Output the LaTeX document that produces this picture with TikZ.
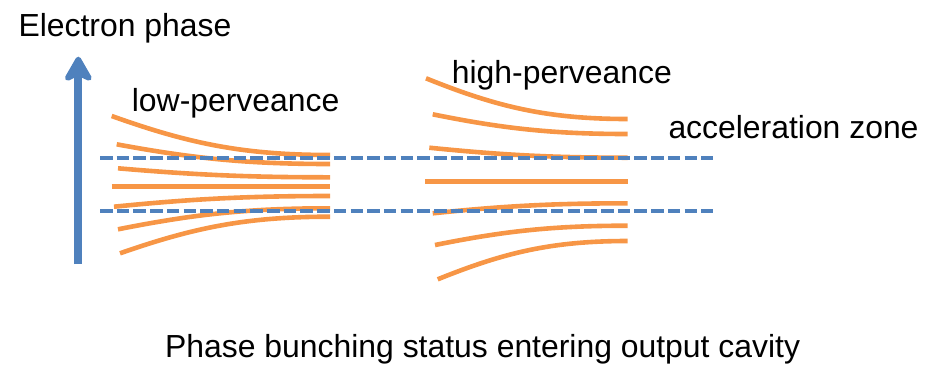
\documentclass[tikz,border=0pt]{standalone}
\usepackage{fontspec}
\setmainfont{Liberation Sans}
\usetikzlibrary{arrows.meta}
\definecolor{beamorange}{HTML}{F79646}
\definecolor{axisblue}{HTML}{4F81BD}
\tikzset{
  beam/.style={draw=beamorange, line width=4.6pt},
  zoneline/.style={draw=axisblue, line width=4pt, dash pattern=on 12.5pt off 4.2pt},
  axisarrow/.style={draw=axisblue, line width=8pt,
    -{Stealth[length=30pt, width=34pt, inset=8pt, round]}},
  label/.style={font=\fontsize{31.9}{36}\selectfont, inner sep=0pt, anchor=base west},
}
% one electron trajectory: converges from (#1,#2) onto a horizontal line ending at (#3,#4)
\newcommand\beamline[4]{%
  \pgfmathsetmacro\cxa{#1+0.35*(#3-#1)}%
  \pgfmathsetmacro\cya{#2+0.7*(#4-#2)}%
  \pgfmathsetmacro\cxb{#1+0.6*(#3-#1)}%
  \draw[beam] (#1,#2) .. controls (\cxa,\cya) and (\cxb,#4) .. (#3,#4);}
\begin{document}
\begin{tikzpicture}[x=1pt, y=-1pt]
  \useasboundingbox (0,0) rectangle (931,365);

  % phase axis
  \coordinate (axisfoot) at (78.3,264);
  \coordinate (axistip) at (78.3,56.7);
  \draw[axisarrow] (axisfoot) -- (axistip);

  % low-perveance bunch
  \beamline{111.7}{116}{330}{155}
  \beamline{116.7}{144.3}{330}{164}
  \beamline{118}{168.3}{330}{177.3}
  \draw[beam] (111.7,186.7) -- (330,186.7);
  \beamline{114}{206.7}{330}{196}
  \beamline{118}{229.3}{330}{208.3}
  \beamline{120}{253.3}{330}{216.7}

  % high-perveance bunch
  \beamline{426}{78.3}{627.7}{119}
  \beamline{432.7}{114.3}{627.7}{134}
  \beamline{429.3}{147.7}{627.7}{157.7}
  \draw[beam] (425,181.7) -- (627.7,181.7);
  \beamline{432.7}{213.3}{627.7}{203.3}
  \beamline{435}{245}{627.7}{225.7}
  \beamline{437.7}{279.3}{627.7}{241}

  % acceleration zone limits
  \coordinate (zoneAw) at (100,158.3);
  \coordinate (zoneAe) at (712.7,158.3);
  \coordinate (zoneBw) at (100,211);
  \coordinate (zoneBe) at (712.7,211);
  \draw[zoneline] (zoneAw) -- (zoneAe);
  \draw[zoneline] (zoneBw) -- (zoneBe);

  % labels
  \node[label] (ylabel) at (18.3,36.7) {Electron phase};
  \node[label] (lowlabel) at (131.7,111.7) {low-perveance};
  \node[label] (highlabel) at (451.7,83.3) {high-perveance};
  \node[label] (zonelabel) at (668.3,138.3) {acceleration zone};
  \node[label] (caption) at (165,357.7) {Phase bunching status entering output cavity};
\end{tikzpicture}
\end{document}
